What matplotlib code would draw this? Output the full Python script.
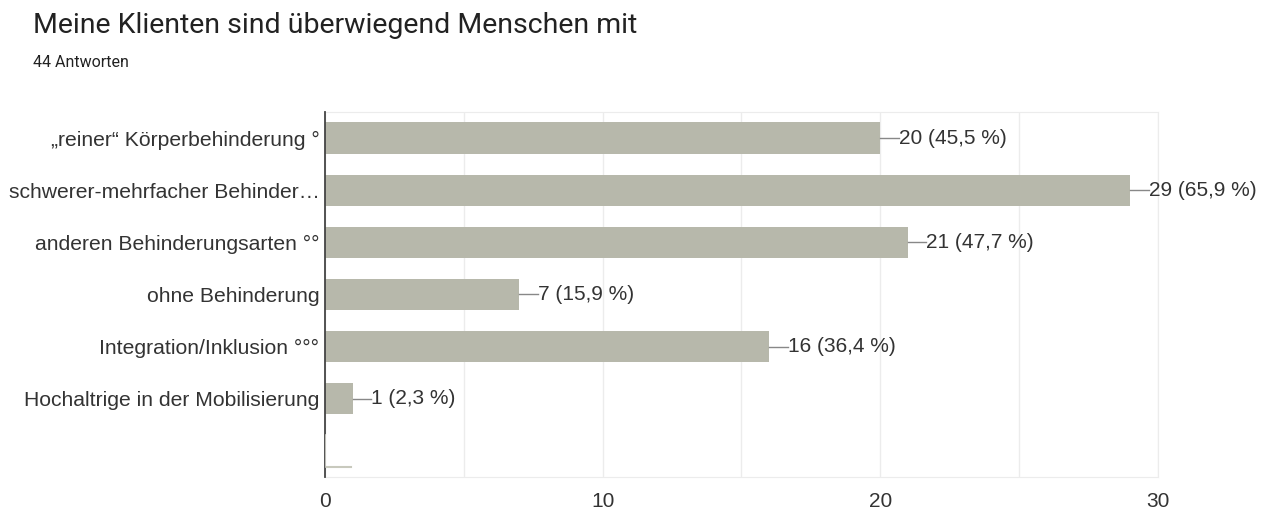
import matplotlib.pyplot as plt

kategorien = ["„reiner“ Körperbehinderung °",
              "schwerer-mehrfacher Behinder…",
              "anderen Behinderungsarten °°",
              "ohne Behinderung",
              "Integration/Inklusion °°°",
              "Hochaltrige in der Mobilisierung",
              ""]
anzahl = [20, 29, 21, 7, 16, 1, 0]
prozent = ["45,5", "65,9", "47,7", "15,9", "36,4", "2,3", ""]
gesamt = 44

bar_farbe = "#b7b8ab"
text_farbe = "#333333"

fig = plt.figure(figsize=(12.77, 5.12), dpi=100)
ax = fig.add_axes([0.2545, 0.0684, 0.6523, 0.7129])

y = list(range(len(kategorien)))
h = 0.6
ax.barh(y, anzahl, height=h, color=bar_farbe, zorder=3)

for i, (n, p) in enumerate(zip(anzahl, prozent)):
    if p:
        ax.plot([n, n + 0.66], [i, i], color="#888888", lw=1, zorder=3)
        ax.text(n + 0.66, i, f"{n} ({p} %)", va="center", ha="left",
                fontsize=15, color=text_farbe, family="Liberation Sans")
    else:
        # leere Zeile: nur ein Rest der Hilfslinie
        ax.plot([n, n], [i - h / 2, i + h / 2], color="#d0d0c8", lw=1.2, zorder=5)
        ax.plot([n, n + 0.95], [i + h / 2, i + h / 2], color="#c8c9bd", lw=1.5, zorder=3)

ax.set_xlim(0, 30)
ax.set_ylim(len(kategorien) - 0.5, -0.5)
ax.set_xticks([0, 10, 20, 30])
ax.set_xticks([5, 15, 25], minor=True)
ax.set_yticks(y)
ax.set_yticklabels(kategorien, fontsize=15.2, color=text_farbe, family="Liberation Sans")
ax.tick_params(axis="y", length=0, pad=4)
ax.tick_params(axis="x", which="both", length=0, pad=11, labelsize=15,
               labelcolor=text_farbe)
for lab in ax.get_xticklabels():
    lab.set_family("Liberation Sans")

ax.grid(axis="x", which="both", color="#ececec", lw=1, zorder=0)
for s in ["top", "right", "bottom"]:
    ax.spines[s].set_color("#ececec")
ax.spines["left"].set_color("#444444")
ax.spines["left"].set_linewidth(1.3)
ax.spines["left"].set_zorder(4)

fig.text(0.026, 0.935, "Meine Klienten sind überwiegend Menschen mit",
         fontsize=20.5, family="Roboto", color="#222222", va="baseline")
fig.text(0.026, 0.869, f"{gesamt} Antworten", fontsize=11.5, family="Roboto",
         color="#222222", va="baseline")

fig.savefig("out.png", dpi=100)
